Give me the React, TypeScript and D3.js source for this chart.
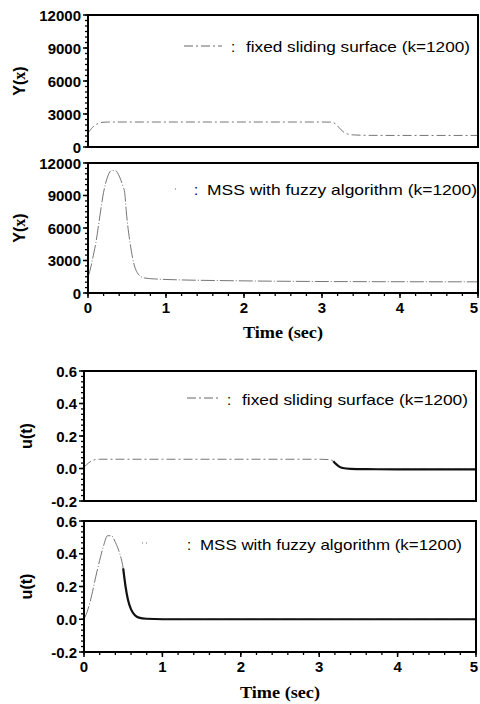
import React from "react";
import * as d3 from "d3";

// ---------- data ----------
const timeTicks = [0, 1, 2, 3, 4, 5];
const gammaTicks = [0, 3000, 6000, 9000, 12000];
const uTicks = [-0.2, 0.0, 0.2, 0.4, 0.6];
const uTickLabels = ["-0.2", "0.0", "0.2", "0.4", "0.6"];

const gammaFixedT = [0, 0.03, 0.06, 0.1, 0.14, 0.18, 0.25, 0.5, 1, 2, 3, 3.12, 3.17, 3.22, 3.27, 3.32, 3.4, 3.6, 4, 5];
const gammaFixedV = [1270, 1550, 1800, 2020, 2170, 2240, 2270, 2270, 2270, 2270, 2270, 2260, 2120, 1750, 1400, 1200, 1100, 1060, 1050, 1050];

const gammaMssT = [0, 0.03, 0.06, 0.1, 0.15, 0.2, 0.25, 0.3, 0.35, 0.4, 0.45, 0.47, 0.49, 0.51, 0.54, 0.57, 0.6, 0.63, 0.67, 0.73, 0.85, 1, 2, 3, 4, 5];
const gammaMssV = [1480, 2200, 3200, 4600, 7000, 9300, 10700, 11300, 11300, 10800, 9800, 9300, 7600, 6200, 4600, 3300, 2400, 1900, 1550, 1380, 1300, 1250, 1120, 1060, 1040, 1030];

const uFixedT = [0, 0.03, 0.06, 0.1, 0.14, 0.2, 0.5, 1, 2, 3, 3.13, 3.18, 3.22, 3.26, 3.3, 3.4, 3.6, 4, 5];
const uFixedV = [0.008, 0.022, 0.035, 0.047, 0.054, 0.057, 0.057, 0.057, 0.057, 0.057, 0.055, 0.045, 0.025, 0.01, 0.003, -0.002, -0.004, -0.005, -0.005];
const uFixedChatterFrom = 3.15;

const uMssT = [0, 0.05, 0.1, 0.15, 0.2, 0.25, 0.3, 0.35, 0.4, 0.45, 0.5, 0.53, 0.56, 0.6, 0.65, 0.7, 0.8, 1, 2, 3, 4, 5];
const uMssV = [0.0, 0.06, 0.15, 0.26, 0.36, 0.45, 0.51, 0.51, 0.47, 0.41, 0.31, 0.2, 0.12, 0.06, 0.025, 0.01, 0.003, 0.0, 0.0, 0.0, 0.0, 0.0];
const uMssChatterFrom = 0.5;

const legendFixed = "fixed sliding surface (k=1200)";
const legendMss = "MSS with fuzzy algorithm (k=1200)";

type Pt = { t: number; v: number };
const zip = (t: number[], v: number[]): Pt[] => t.map((x, i) => ({ t: x, v: v[i] }));

const SANS = "'Liberation Sans', Arial, sans-serif";
const SERIF = "'Liberation Serif', 'Times New Roman', serif";

type PanelProps = {
  top: number; bottom: number; left: number; right: number;
  domain: [number, number]; ticks: number[]; tickLabels: string[];
  data: Pt[]; style: "fixed" | "mss"; chatterFrom?: number;
  legend: string; legendX: number; legendY: number; legendW: number;
  sampleX1: number; sampleX2: number; sampleY: number; colonX: number;
  ylabel: React.ReactNode; ylabelX: number;
  showX: boolean; timeY?: number;
};

function Panel(p: PanelProps) {
  const x = d3.scaleLinear().domain([0, 5]).range([p.left, p.right]);
  const y = d3.scaleLinear().domain(p.domain).range([p.bottom, p.top]);
  const line = d3.line<Pt>().x(d => x(d.t)).y(d => y(d.v)).curve(d3.curveMonotoneX);
  const dash = p.style === "fixed" ? "9 3 2 3" : "14 2 1 2";
  const step = p.ticks[1] - p.ticks[0];
  const minor = d3.range(p.domain[0], p.domain[1] + step / 12, step / 6);
  const xMinor = d3.range(0, 5.001, 0.2);
  const chatter = p.chatterFrom !== undefined ? p.data.filter(d => d.t >= p.chatterFrom!) : [];
  return (
    <g>
      <path d={line(p.data) || ""} fill="none" stroke="#666" strokeWidth={0.9} strokeDasharray={dash} />
      {chatter.length > 1 && (
        <path d={line(chatter) || ""} fill="none" stroke="#111" strokeWidth={2.2} />
      )}
      <rect x={p.left} y={p.top} width={p.right - p.left} height={p.bottom - p.top} fill="none" stroke="#000" strokeWidth={2} />
      {minor.map((v, i) => (
        <line key={"m" + i} x1={p.left - 3} x2={p.left} y1={y(v)} y2={y(v)} stroke="#000" strokeWidth={1.3} />
      ))}
      {p.ticks.map((v, i) => (
        <g key={"t" + i}>
          <line x1={p.left - 5} x2={p.left} y1={y(v)} y2={y(v)} stroke="#000" strokeWidth={1.5} />
          <text x={p.left - 7} y={y(v) + 5.5} textAnchor="end" fontFamily={SANS} fontWeight="bold" fontSize={15}>{p.tickLabels[i]}</text>
        </g>
      ))}
      {p.showX && xMinor.map((v, i) => (
        <line key={"xm" + i} x1={x(v)} x2={x(v)} y1={p.bottom} y2={p.bottom + 3} stroke="#000" strokeWidth={1.3} />
      ))}
      {p.showX && timeTicks.map((v, i) => (
        <g key={"xt" + i}>
          <line x1={x(v)} x2={x(v)} y1={p.bottom} y2={p.bottom + 5} stroke="#000" strokeWidth={1.5} />
          <text x={Math.min(x(v), 474)} y={p.bottom + 20} textAnchor="middle" fontFamily={SANS} fontWeight="bold" fontSize={15}>{v}</text>
        </g>
      ))}
      {p.showX && (
        <text x={(p.left + p.right) / 2} y={p.timeY} textAnchor="middle" fontFamily={SERIF} fontWeight="bold" fontSize={17} textLength={80} lengthAdjust="spacingAndGlyphs">Time (sec)</text>
      )}
      <line x1={p.sampleX1} x2={p.sampleX2} y1={p.sampleY} y2={p.sampleY} stroke="#555" strokeWidth={0.9}
        strokeDasharray={p.style === "fixed" ? "9 3 2 3" : "1 3"} />
      <text x={p.colonX} y={p.legendY} textAnchor="middle" fontFamily={SANS} fontSize={15}>:</text>
      <text x={p.legendX} y={p.legendY} fontFamily={SANS} fontSize={15} textLength={p.legendW} lengthAdjust="spacingAndGlyphs">{p.legend}</text>
      <text transform={`translate(${p.ylabelX},${(p.top + p.bottom) / 2}) rotate(-90)`} textAnchor="middle" fontFamily={SANS} fontWeight="bold" fontSize={16}>{p.ylabel}</text>
    </g>
  );
}

export default function App() {
  const gLabels = gammaTicks.map(String);
  const gammaLabel = (<>Y(<tspan fontFamily={SERIF}>x</tspan>)</>);
  return (
    <svg width={480} height={704} style={{ position: "absolute", left: 0, top: 0, background: "#fff" }}>
      <rect width={480} height={704} fill="#fff" />
      <Panel top={15} bottom={147} left={88} right={478} domain={[0, 12000]} ticks={gammaTicks} tickLabels={gLabels}
        data={zip(gammaFixedT, gammaFixedV)} style="fixed"
        legend={legendFixed} legendX={246} legendY={52} legendW={224}
        sampleX1={184} sampleX2={222} sampleY={46} colonX={233}
        ylabel={gammaLabel} ylabelX={25} showX={false} />
      <Panel top={163} bottom={293} left={88} right={478} domain={[0, 12000]} ticks={gammaTicks} tickLabels={gLabels}
        data={zip(gammaMssT, gammaMssV)} style="mss"
        legend={legendMss} legendX={207} legendY={195} legendW={270}
        sampleX1={175} sampleX2={178} sampleY={189} colonX={196}
        ylabel={gammaLabel} ylabelX={25} showX={true} timeY={338} />
      <Panel top={371} bottom={501} left={84} right={476} domain={[-0.2, 0.6]} ticks={uTicks} tickLabels={uTickLabels}
        data={zip(uFixedT, uFixedV)} style="fixed" chatterFrom={uFixedChatterFrom}
        legend={legendFixed} legendX={242} legendY={405} legendW={226}
        sampleX1={187} sampleX2={220} sampleY={398} colonX={229}
        ylabel={<>u(t)</>} ylabelX={32} showX={false} />
      <Panel top={521} bottom={652} left={84} right={476} domain={[-0.2, 0.6]} ticks={uTicks} tickLabels={uTickLabels}
        data={zip(uMssT, uMssV)} style="mss" chatterFrom={uMssChatterFrom}
        legend={legendMss} legendX={200} legendY={550} legendW={262}
        sampleX1={142} sampleX2={150} sampleY={543} colonX={189}
        ylabel={<>u(t)</>} ylabelX={32} showX={true} timeY={698} />
    </svg>
  );
}
